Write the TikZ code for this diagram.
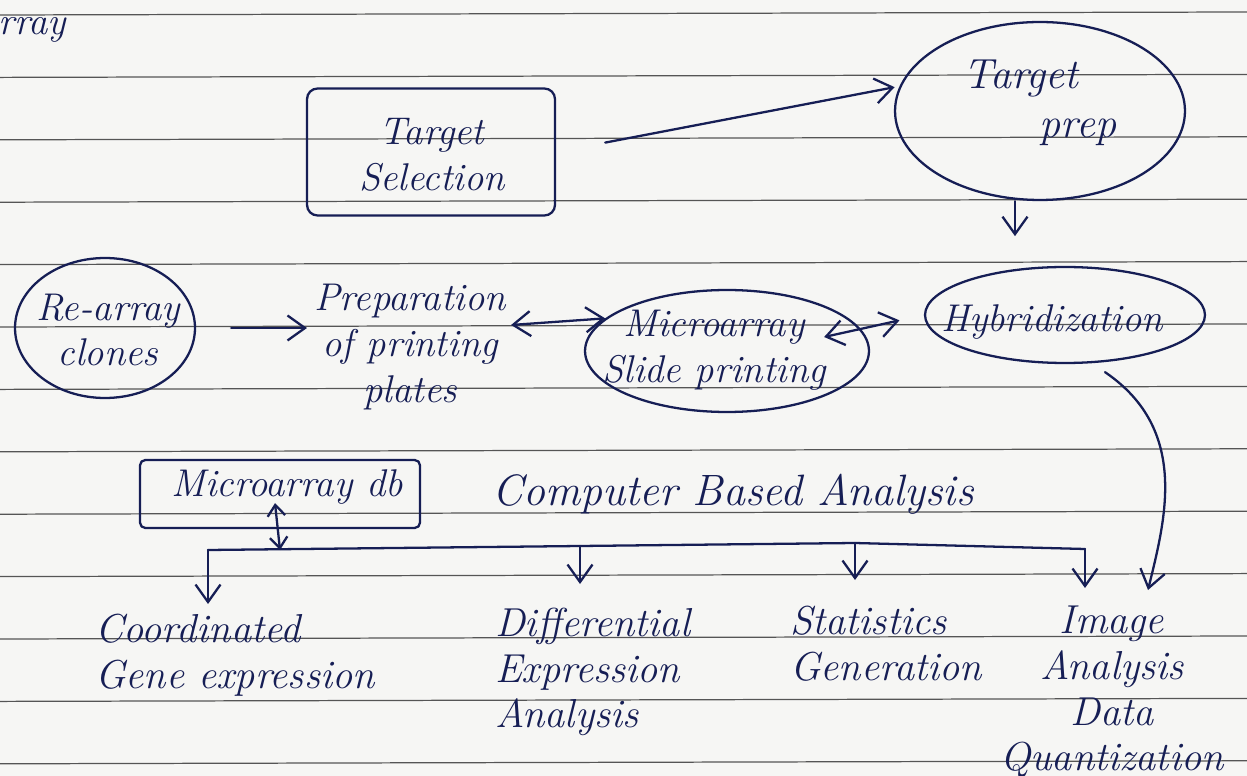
\documentclass[tikz,border=0pt]{standalone}
\usepackage{fontspec}
\usetikzlibrary{shapes.geometric,arrows.meta,calc}
\definecolor{ink}{RGB}{22,30,85}
\definecolor{rulecol}{RGB}{85,85,85}
\definecolor{paper}{RGB}{246,246,244}
\tikzset{
  inkline/.style={draw=ink, line width=1.3pt, line cap=round, line join=round},
  txt/.style={text=ink, font=\fontsize{22}{26}\selectfont\itshape, inner sep=1pt},
  bigtxt/.style={text=ink, font=\fontsize{23}{26}\selectfont\itshape, inner sep=1pt},
  arr/.style={inkline, -{Straight Barb[length=3.5mm,width=5mm]}},
  arrtwo/.style={inkline, {Straight Barb[length=3.5mm,width=5mm]}-{Straight Barb[length=3.5mm,width=5mm]}},
  arrsmall/.style={inkline, {Straight Barb[length=2.2mm,width=3.5mm]}-{Straight Barb[length=2.2mm,width=3.5mm]}},
  oval/.style={inkline, ellipse, inner sep=0pt},
  boxed/.style={inkline, rectangle, rounded corners=6pt, inner sep=0pt},
  paperrule/.style={draw=rulecol, line width=0.7pt}
}
\begin{document}
\begin{tikzpicture}[x=0.02cm, y=-0.02cm]
\fill[paper] (0,0) rectangle (1247,776);
\useasboundingbox (0,0) rectangle (1247,776);
% ruled paper
\foreach \k in {0,...,12} \draw[paperrule] (0,{15+62.4*\k}) -- (1247,{12+62.4*\k});

% title fragment
\node[txt, anchor=west] (rray) at (-4,30) {rray};

% Target selection
\node[boxed, minimum width=4.96cm, minimum height=2.54cm] (tsel) at (431,152) {};
\node[txt, align=center] (tseltxt) at (432,155) {Target\\Selection};

% Target prep
\node[oval, minimum width=5.8cm, minimum height=3.56cm] (tprep) at (1040,111) {};
\node[txt, align=left, font=\fontsize{24}{28}\selectfont\itshape] (tpreptxt) at (1040,103) {Target\\\hspace*{1.8em}prep};

% Hybridization
\node[oval, minimum width=5.6cm, minimum height=1.92cm] (hyb) at (1065,315) {};
\node[txt] (hybtxt) at (1052,322) {Hybridization};

% Re-array clones
\node[oval, minimum width=3.6cm, minimum height=2.8cm] (reclones) at (105,328) {};
\node[txt, align=center] (reclonestxt) at (108,330) {Re-array\\clones};

% Preparation of printing plates
\node[txt, align=center] (prep) at (410,347) {Preparation\\of printing\\plates};

% Microarray slide printing
\node[oval, minimum width=5.68cm, minimum height=2.44cm] (slide) at (727,351) {};
\node[txt, align=center] (slidetxt) at (714,350) {Microarray\\Slide printing};

% Microarray db
\node[boxed, rounded corners=3pt, minimum width=5.6cm, minimum height=1.36cm] (mdb) at (280,494) {};
\node[txt] (mdbtxt) at (287,487) {Microarray db};

% Computer based analysis
\node[txt, font=\fontsize{25}{28}\selectfont\itshape] (cba) at (733,494) {Computer Based Analysis};

% bottom texts
\node[bigtxt, align=left, anchor=north west] (cge) at (93,612) {Coordinated\\Gene expression};
\node[bigtxt, align=left, anchor=north west] (dea) at (493,606) {Differential\\Expression\\Analysis};
\node[bigtxt, align=left, anchor=north west] (sg) at (788,604) {Statistics\\Generation};
\node[bigtxt, align=center, anchor=north] (iadq) at (1112,604) {Image\\Analysis\\Data\\Quantization};

% connectors, top part
\draw[arr, shorten <=1cm, shorten >=0.1cm] (tsel.east) -- (tprep.170);
\draw[arr] ($(tprep.south)+(-25,0)$) -- ++(0,35);
\draw[arr, shorten <=0.7cm, shorten >=0.1cm] (reclones.east) -- (reclones.east -| prep.west);
\draw[arrtwo] ($(prep.east)+(3,-22)$) -- (slide.165);
\draw[arrtwo, shorten >=0.5cm] ($(slide.east)+(-46,-14)$) -- (hyb.west);
\coordinate (iatop) at (1148,590);
\draw[arr] ($(hyb.south)+(40,8)$) .. controls (1190,430) and (1165,520) .. (iatop);

% computer based analysis branches
\coordinate (b1) at (208,550);
\coordinate (b2) at (580,546);
\coordinate (b3) at (855,543);
\coordinate (b4) at (1085,549);
\draw[inkline] (b1) -- (b2) -- (b3) -- (b4);
\draw[arrsmall] ($(mdb.south)+(-5,-26)$) -- (mdb.south |- b1);
\coordinate (e1) at (208,604);
\coordinate (e2) at (580,584);
\coordinate (e3) at (855,580);
\coordinate (e4) at (1085,588);
\draw[arr] (b1) -- (e1);
\draw[arr] (b2) -- (e2);
\draw[arr] (b3) -- (e3);
\draw[arr] (b4) -- (e4);
\end{tikzpicture}
\end{document}
